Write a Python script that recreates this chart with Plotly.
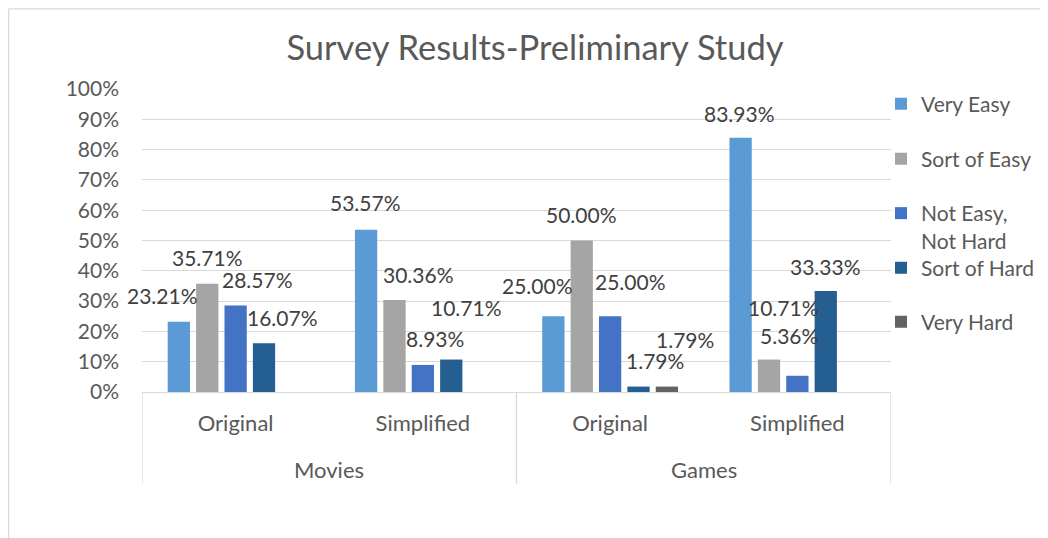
import plotly.graph_objects as go

# ---- data ----
groups = ["Movies", "Movies", "Games", "Games"]
versions = ["Original", "Simplified", "Original", "Simplified"]
series_names = ["Very Easy", "Sort of Easy", "Not Easy,<br>Not Hard", "Sort of Hard", "Very Hard"]
very_easy = [23.21, 53.57, 25.00, 83.93]
sort_of_easy = [35.71, 30.36, 50.00, 10.71]
not_easy_not_hard = [28.57, 8.93, 25.00, 5.36]
sort_of_hard = [16.07, 10.71, 1.79, 33.33]
very_hard = [None, None, 1.79, None]
y_ticks = [0, 10, 20, 30, 40, 50, 60, 70, 80, 90, 100]

series_values = [very_easy, sort_of_easy, not_easy_not_hard, sort_of_hard, very_hard]

# ---- styles / layout ----
colors = ["#5B9BD5", "#A5A5A5", "#4472C4", "#255E91", "#636363"]
FONT = "Lato, Carlito, Calibri, sans-serif"
OFF = 8  # default page margin of the html body
W, H = 1048 - OFF, 538 - OFF
ML, MT = 142 - OFF, 89 - OFF
PW, PH = 749, 303
MR, MB = W - ML - PW, H - MT - PH
BARGAP, BARGROUPGAP = 0.242, 0.215
GRID = "#D9D9D9"

# label shifts (pixels) per series / category, mimicking the hand-placed labels
label_dx = [
    [-16, -1, -16, -1],
    [0, 24, 0, 15],
    [22, 12, 20, -8],
    [18, 15, 16, 0],
    [0, 0, 18, 0],
]
label_dy = [
    [26, 27, 31, 24],
    [26, 26, 26, 52],
    [26, 26, 35, 40],
    [26, 52, 26, 25],
    [26, 26, 47, 26],
]

legend_centers_px = [104, 159, 227, 268, 322]  # page pixels

cats = [f"{g}|{v}" for g, v in zip(groups, versions)]

fig = go.Figure()
for k, (name, vals) in enumerate(zip(series_names, series_values)):
    lg = "legend" if k == 0 else f"legend{k + 1}"
    fig.add_trace(go.Bar(
        x=cats, y=vals, name=name, marker_color=colors[k],
        marker_line_width=0, legend=lg, hoverinfo="skip",
    ))

cat_w = PW / len(cats)
slot = cat_w * (1 - BARGAP) / len(series_names)
annotations = []
for k, vals in enumerate(series_values):
    for i, v in enumerate(vals):
        if v is None:
            continue
        annotations.append(dict(
            x=i, y=v, xref="x", yref="y", text=f"{v:.2f}%", showarrow=False,
            xanchor="center", yanchor="middle",
            xshift=(k - 2) * slot + label_dx[k][i], yshift=label_dy[k][i],
            font=dict(family=FONT, size=21, color="#404040"),
        ))

# outer group labels (second level of the category axis) and dividers
group_names = list(dict.fromkeys(groups))
bounds = [-0.5]
for gname in group_names:
    idx = [i for i, g in enumerate(groups) if g == gname]
    annotations.append(dict(
        x=sum(idx) / len(idx), y=-77 / PH, xref="x", yref="paper", text=gname,
        showarrow=False, xanchor="center", yanchor="middle",
        font=dict(family=FONT, size=22, color="#595959"),
    ))
    bounds.append(max(idx) + 0.5)

shapes = [
    dict(type="line", xref="x", yref="paper", x0=b, x1=b, y0=0, y1=-92 / PH,
         line=dict(color=GRID, width=1.3))
    for b in bounds
]

# outer chart border (left and top)
bx0 = (0.6 - ML) / PW
by1 = (PH + MT - 0.8) / PH
shapes += [
    dict(type="line", xref="paper", yref="paper", x0=bx0, x1=bx0, y0=-(MB + 5) / PH, y1=by1,
         line=dict(color=GRID, width=1.3)),
    dict(type="line", xref="paper", yref="paper", x0=bx0, x1=(W - ML + 5) / PW, y0=by1, y1=by1,
         line=dict(color=GRID, width=1.3)),
]

legends = {}
for k in range(len(series_names)):
    key = "legend" if k == 0 else f"legend{k + 1}"
    legends[key] = dict(
        x=(881 - OFF - ML) / PW, xanchor="left",
        y=(MT + PH - (legend_centers_px[k] - OFF)) / PH, yanchor="middle",
        font=dict(family=FONT, size=21, color="#595959"),
        bgcolor="rgba(0,0,0,0)", valign="top", itemwidth=30,
    )

fig.update_layout(
    width=W, height=H, autosize=False,
    margin=dict(l=ML, r=MR, t=MT, b=MB, autoexpand=False),
    paper_bgcolor="white", plot_bgcolor="white",
    barmode="group", bargap=BARGAP, bargroupgap=BARGROUPGAP,
    title=dict(text="Survey Results-Preliminary Study", x=(535 - OFF) / W, y=1 - (48 - OFF) / H,
               xanchor="center", yanchor="middle", xref="container", yref="container",
               font=dict(family=FONT, size=34.5, color="#595959")),
    font=dict(family=FONT, color="#595959"),
    showlegend=True,
    annotations=annotations,
    shapes=shapes,
    **legends,
)
fig.update_yaxes(
    range=[0, 100], tickvals=y_ticks, ticktext=[f"{t}%" for t in y_ticks],
    showgrid=True, gridcolor=GRID, gridwidth=1.3, zeroline=False, showline=False,
    ticks="", ticklabelstandoff=22, automargin=False,
    tickfont=dict(family=FONT, size=21, color="#595959"),
)
fig.update_xaxes(
    type="category", tickvals=cats, ticktext=versions,
    showline=True, linecolor=GRID, linewidth=1.3, showgrid=False,
    ticks="", ticklabelstandoff=11, automargin=False,
    tickfont=dict(family=FONT, size=22, color="#595959"),
    range=[-0.5, len(cats) - 0.5],
)

fig.write_html("out.html")
